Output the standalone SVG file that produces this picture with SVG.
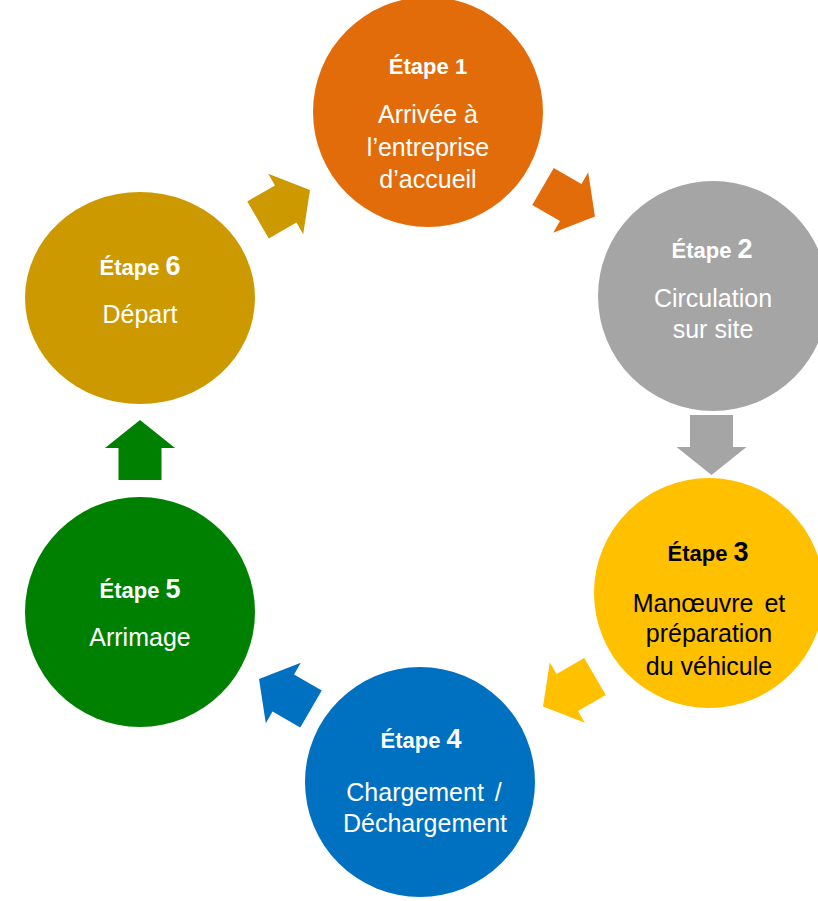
<svg xmlns="http://www.w3.org/2000/svg" width="818" height="901" viewBox="0 0 818 901">
<defs>
<path id="arr" d="M0,-21.5 H32 V-35 L60,0 L32,35 V21.5 H0 Z"/>
</defs>
<style>
text{font-family:"Liberation Sans",Arial,sans-serif;text-anchor:middle;fill:#fff}
.h{font-size:22px;font-weight:bold}
.n{font-size:27px;font-weight:bold}
.t{font-size:25px}
.dk text,.dk{fill:#000}
</style>
<rect width="818" height="901" fill="#fff"/>
<g id="connectors">
<use href="#arr" fill="#E36C0A" transform="translate(543,186.5) rotate(30)"/>
<use href="#arr" fill="#A5A5A5" transform="translate(711.5,415) rotate(90)"/>
<use href="#arr" fill="#FFC000" transform="translate(595,676.5) rotate(150)"/>
<use href="#arr" fill="#0070C0" transform="translate(311,709) rotate(210)"/>
<use href="#arr" fill="#008000" transform="translate(140,480) rotate(-90)"/>
<use href="#arr" fill="#CC9900" transform="translate(258,220) rotate(-30)"/>
</g>
<g id="step1">
<circle cx="428" cy="112" r="115" fill="#E36C0A"/>
<text x="428" y="74" class="h">Étape 1</text>
<text x="428" y="123" class="t">Arrivée à</text>
<text x="428" y="156" class="t">l’entreprise</text>
<text x="428" y="188" class="t">d’accueil</text>
</g>
<g id="step2">
<circle cx="713" cy="296" r="115" fill="#A5A5A5"/>
<text x="712" y="258" class="h">Étape <tspan class="n">2</tspan></text>
<text x="713" y="307" class="t">Circulation</text>
<text x="713" y="338" class="t">sur site</text>
</g>
<g id="step3" class="dk">
<circle cx="709" cy="593" r="115" fill="#FFC000"/>
<text x="708" y="561" class="h">Étape <tspan class="n">3</tspan></text>
<text x="709" y="612" class="t" word-spacing="4">Manœuvre et</text>
<text x="709" y="642" class="t">préparation</text>
<text x="709" y="675" class="t">du véhicule</text>
</g>
<g id="step4">
<circle cx="420" cy="782" r="115" fill="#0070C0"/>
<text x="421" y="748" class="h">Étape <tspan class="n">4</tspan></text>
<text x="424" y="801" class="t" word-spacing="4">Chargement /</text>
<text x="425" y="832" class="t">Déchargement</text>
</g>
<g id="step5">
<circle cx="140" cy="612" r="115" fill="#008000"/>
<text x="140" y="598" class="h">Étape <tspan class="n">5</tspan></text>
<text x="140" y="646" class="t">Arrimage</text>
</g>
<g id="step6">
<ellipse cx="140" cy="298" rx="115" ry="106" fill="#CC9900"/>
<text x="140" y="275" class="h">Étape <tspan class="n">6</tspan></text>
<text x="140" y="323" class="t">Départ</text>
</g>
</svg>
